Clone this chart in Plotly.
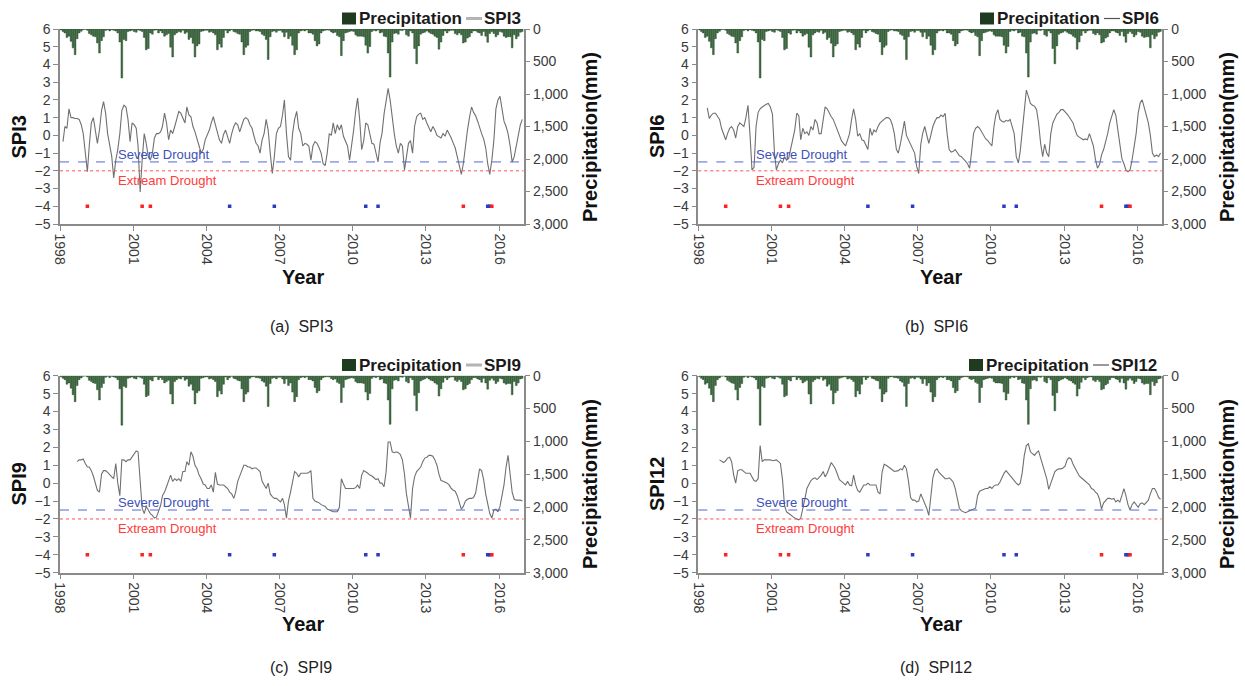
import plotly.graph_objects as go

# ---------------- data ----------------
YEARS = list(range(1998, 2017))
MONTHS = [f"{y}-{m:02d}-15" for y in YEARS for m in range(1, 13)]
TICK_YEARS = [1998, 2001, 2004, 2007, 2010, 2013, 2016]

# monthly precipitation (mm), Jan..Dec per row
PRECIP = [
    15, 40, 60, 130, 110, 190, 290, 395, 150, 60, 35, 10,     # 1998
    5, 20, 70, 90, 110, 120, 215, 370, 180, 120, 25, 10,      # 1999
    30, 10, 20, 30, 60, 200, 754, 160, 180, 40, 30, 20,       # 2000
    40, 50, 15, 25, 40, 130, 320, 300, 60, 80, 20, 15,        # 2001
    60, 30, 60, 110, 90, 70, 280, 430, 90, 60, 40, 50,        # 2002
    20, 70, 50, 160, 130, 220, 430, 260, 230, 40, 30, 20,     # 2003
    20, 50, 40, 60, 90, 320, 230, 280, 130, 20, 60, 30,       # 2004
    10, 40, 50, 70, 80, 200, 395, 280, 250, 40, 20, 15,       # 2005
    30, 30, 40, 80, 100, 160, 470, 120, 40, 30, 50, 25,       # 2006
    25, 50, 120, 50, 150, 110, 250, 395, 320, 60, 30, 20,     # 2007
    30, 15, 60, 60, 80, 180, 260, 230, 60, 30, 20, 15,        # 2008
    20, 45, 60, 50, 100, 120, 410, 180, 60, 50, 40, 30,       # 2009
    40, 90, 110, 110, 110, 120, 250, 370, 270, 40, 20, 30,    # 2010
    15, 60, 50, 110, 120, 370, 740, 200, 70, 60, 80, 20,      # 2011
    25, 10, 90, 110, 30, 60, 300, 535, 260, 80, 60, 50,       # 2012
    30, 50, 70, 80, 110, 130, 310, 200, 100, 30, 60, 30,      # 2013
    20, 20, 70, 90, 60, 90, 215, 200, 140, 120, 60, 30,       # 2014
    30, 50, 60, 100, 40, 110, 205, 70, 40, 70, 120, 90,       # 2015
    40, 50, 110, 130, 120, 120, 290, 90, 150, 110, 50, 40,    # 2016
]

SPI3 = [
    None, -0.35, 0.5, 0.4, 1.5, 1.0, 1.0, 0.95, 0.95, 0.9, 0.6, 0.1,
    -0.9, -2.05, -0.6, 0.7, 1.0, 0.1, -0.45, 0.3, 1.4, 1.9, 1.25, 0.1,
    -0.5, -1.2, -2.4, -1.4, -0.8, 0.1, 1.4, 1.7, 1.6, 0.9, -0.35, 0.7,
    0.6, 0.4, -0.6, -3.2, -1.4, 0.1, -0.45, -1.2, -1.4, -1.0, -0.15, 0.1,
    0.1, 0.2, 0.5, 1.25, 0.7, -0.25, 0.3, 0.1, 0.5, 0.9, 1.35, 1.25,
    1.0, 0.7, 1.6, 1.15, 1.05, 0.5, 0.2, -0.15, -0.6, -1.0, -0.8, -0.25,
    0.0, 0.3, 0.7, 1.05, 0.6, 0.1, -0.25, -0.45, 0.05, 0.3, -0.1, -0.45,
    0.1, 0.5, 0.7, 0.6, 0.2, 0.5, 0.9, 1.0, 0.9, 0.6, 0.4, -0.05,
    -0.45, -0.6, -1.0, -0.25, 0.1, 0.9, 0.3, -1.0, -2.15, -1.2, 0.1, 0.4,
    0.5, 1.15, 2.0, 0.1, -1.2, -1.4, 0.1, 0.9, 1.35, 0.4, 0.1, -0.6,
    -0.45, -0.5, -0.6, -1.4, -0.6, -0.35, -0.45, -0.7, -1.0, -1.6, -1.7, -1.0,
    0.1, 0.0, 0.7, 0.1, 0.6, 0.3, 0.6, -0.05, -0.3, -0.6, -1.4, -0.6,
    0.3, 1.4, 2.1, 0.9, -0.8, -0.3, 0.7, 0.6, -0.05, -0.45, -0.5, -1.0,
    -1.5, -0.4, 0.1, 1.2, 2.0, 2.65, 2.0, 1.0, 0.1, -0.6, -1.0, -0.45,
    -0.6, -1.95, -1.2, -0.45, -0.3, -1.0, 0.5, 1.05, 1.2, 1.25, 0.9, 1.0,
    0.7, 0.4, 0.2, 0.5, 0.3, 0.0, -0.1, -0.15, 0.1, -0.05, 0.3, 0.1,
    -0.15, -0.45, -0.7, -1.2, -1.75, -2.2, -1.6, -0.6, 0.3, 1.0, 1.6, 1.3,
    1.1, 0.8, 0.4, 0.1, -0.2, -0.7, -1.6, -2.2, -1.4, -0.3, 1.5, 2.0,
    2.2, 1.5, 0.8, 0.5, 0.1, -0.6, -1.5, -1.2, -0.6, 0.0, 0.6, 0.9,
]

SPI6 = [
    None, None, None, None, 1.55, 0.95, 1.15, 1.25, 1.25, 1.1, 0.9, 0.4,
    0.1, -0.25, 0.1, 0.4, 0.5, 0.3, -0.15, 0.5, 0.7, 0.6, 0.5, 1.0,
    1.7, 0.0, -1.95, -1.8, 0.5, 1.3, 1.5, 1.6, 1.7, 1.75, 1.8, 1.6,
    1.2, -1.0, -1.95, -1.6, -1.4, -1.55, -1.2, -1.4, -1.3, -0.8, -0.25, 0.3,
    1.25, 1.1, -0.25, 0.4, 0.1, 0.2, 0.0, 0.5, 0.3, 0.9, 0.7, 0.1,
    0.1, 0.9, 1.6, 1.5, 1.25, 1.05, 0.9, 0.6, 0.3, -0.05, -0.3, -0.45,
    -0.6, -0.25, 0.1, 0.9, 1.5, 0.9, -0.05, 0.1, -0.25, -0.3, -0.55, -0.8,
    0.4, 0.0, 0.3, 0.2, 0.5, 0.7, 0.8, 0.9, 1.0, 1.0, 0.9, 0.6,
    0.1, -0.8, -1.0, -0.5, 0.1, 0.8, 0.0, -0.25, -0.6, -0.8, -1.0, -1.75,
    -2.15, -0.5, 0.1, 0.5, 0.0, -0.45, 0.0, 0.5, 0.8, 1.0, 1.0, 1.15,
    1.05, 1.25, 0.1, -0.8, -0.95, -0.9, -0.8, -1.0, -1.15, -1.2, -1.3, -1.45,
    -1.6, -1.85, -1.0, 0.1, 0.4, 0.5, 0.4, 0.2, -0.05, -0.2, -0.3, -0.45,
    -0.6, 0.5, 1.15, 1.45, 0.9, 0.8, 0.75, 0.85, 0.8, 0.9, 0.5, 0.1,
    -1.2, -1.55, -0.9, 0.3, 1.5, 2.55, 2.2, 1.8, 1.7, 1.65, 1.45, 0.7,
    -0.45, -1.2, -0.5, -1.0, -1.2, 0.1, 0.7, 0.95, 1.2, 1.3, 1.45, 1.45,
    1.35, 1.2, 1.05, 0.9, 0.7, 0.3, 0.0, -0.1, -0.2, -0.25, -0.2, -0.25,
    0.1, -0.25, -0.6, -1.35, -1.85, -1.65, -1.1, -0.8, -0.4, 0.1, 0.7, 1.15,
    1.45, 1.1, 0.3, -0.6, -1.3, -1.6, -1.95, -2.05, -1.95, -1.4, -0.6, 0.1,
    1.25, 1.85, 2.0, 1.6, 1.2, 0.7, 0.0, -1.0, -1.2, -1.1, -1.2, -1.0,
]

SPI9 = [
    None, None, None, None, None, None, None, None, 1.2, 1.3, 1.3, 1.35,
    1.1, 0.9, 0.9, 0.7, 0.4, 0.0, -0.4, -0.5, 0.5, 0.7, 0.7, 0.6,
    0.5, 0.35, 0.25, 1.1, 0.0, -0.7, 1.3, 1.3, 1.2, 1.3, 1.3, 1.45,
    1.6, 1.8, 1.75, -0.2, -1.4, -1.7, -1.3, -1.5, -1.7, -1.8, -1.95, -1.9,
    -1.5, -1.25, -0.7, -0.5, -0.2, 0.1, 0.45, 0.1, 0.25, 0.15, 0.25, 0.1,
    0.65, 0.65, 1.2, 1.0, 1.75, 1.5, 1.0, 0.8, 0.45, 0.25, -0.05, -0.1,
    -0.3, -0.3, -0.1, -0.5, 0.6, -0.05, -0.1, -0.1, -0.1, -0.2, -0.3, -0.5,
    -0.6, -0.85, -0.5, 0.1, 0.45, 0.7, 1.0, 1.0, 0.9, 0.9, 0.8, 0.85,
    0.85, 0.75, 0.65, 0.1, -0.1, -0.3, 0.0, -0.6, -0.75, -0.85, -0.85, -0.95,
    -1.05, -0.85, -1.2, -1.95, -1.0, -0.5, 0.1, 0.65, 0.55, 0.35, 0.55, 0.55,
    0.55, 0.55, 0.6, 0.7, -0.85, -1.0, -1.05, -1.1, -1.2, -1.25, -1.3, -1.45,
    -1.5, -1.55, -1.6, -1.6, -1.6, -1.35, 0.25, -0.05, -0.3, -0.3, -0.3, -0.3,
    -0.3, -0.25, -0.1, -0.3, 0.45, 0.7, 0.6, 0.55, 0.45, 0.4, 0.3, 0.2,
    0.25, 0.0, 0.0, -0.2, 0.6, 2.3, 2.3, 1.75, 1.7, 1.75, 1.7, 1.6,
    1.3, 0.5, -0.6, -1.3, -1.95, -0.3, 0.35, 0.65, 0.8, 0.9, 1.2, 1.4,
    1.45, 1.55, 1.55, 1.5, 1.3, 1.0, 0.5, 0.15, 0.1, 0.05, 0.0, -0.1,
    -0.3, -0.4, -0.45, -0.7, -1.1, -1.45, -1.3, -1.0, -0.9, -0.85, -0.85, -0.8,
    -0.55, 0.2, 0.8, 0.7, 0.2, -0.6, -1.2, -1.7, -1.95, -1.5, -1.45, -1.6,
    -1.3, -0.7, -0.1, 0.9, 1.55, 0.5, -0.5, -0.9, -0.95, -0.95, -0.95, -1.0,
]

SPI12 = [
    None, None, None, None, None, None, None, None, None, None, 1.3, 1.2,
    1.15, 1.25, 1.4, 1.45, 1.2, 0.45, 0.0, 0.7, 0.75, 0.75, 0.65, 0.55,
    0.55, 0.55, 0.35, 0.15, 0.1, 0.25, 2.1, 1.2, 1.3, 1.3, 1.3, 1.3,
    1.25, 1.3, 1.3, 1.2, 1.1, 0.2, -1.25, -1.6, -1.7, -1.8, -1.9, -1.95,
    -2.0, -2.05, -1.95, -1.5, -0.9, -0.3, -0.05, 0.15, 0.25, 0.3, 0.2, 0.3,
    0.45, 0.65, 0.35, 0.55, 0.85, 1.15, 1.0, 0.8, 0.5, 0.2, 0.1, 0.0,
    -0.1, 0.1, -0.1, -0.15, 0.45, -0.1, -0.4, -0.5, -0.25, -0.1, -0.1, 0.0,
    -0.1, -0.1, -0.1, -0.1, -0.5, -0.6, 0.6, 1.05, 1.0, 0.9, 0.85, 0.75,
    0.65, 0.7, 0.7, 0.8, 0.75, 1.0, 0.8, 0.1, -0.8, -0.95, -0.95, -1.05,
    -1.0, -0.6, -0.85, -1.1, -1.4, -1.8, -0.9, 0.3, 0.7, 0.8, 0.6, 0.5,
    0.35, 0.25, 0.25, 0.3, 0.2, 0.05, -0.3, -0.85, -1.4, -1.55, -1.6, -1.65,
    -1.6, -1.55, -1.5, -1.45, -1.4, -0.7, -0.45, -0.4, -0.35, -0.3, -0.3, -0.2,
    -0.3, -0.15, -0.1, -0.1, 0.05, 0.35, 0.55, 0.7, 0.55, 0.45, 0.3, 0.1,
    0.0, -0.1, 0.0, 0.6, 1.55, 2.1, 2.2, 1.75, 1.65, 1.55, 1.7, 1.8,
    1.4, 1.0, 0.6, 0.25, -0.35, 0.0, 0.35, 0.65, 0.75, 0.8, 0.8, 0.85,
    0.95, 1.3, 1.42, 1.35, 1.05, 0.8, 0.6, 0.4, 0.3, 0.2, 0.1, 0.05,
    -0.1, -0.3, -0.35, -0.5, -0.6, -0.9, -1.45, -1.1, -0.95, -0.85, -0.85, -0.9,
    -0.85, -1.05, -0.95, -1.05, -0.7, -0.3, -0.7, -1.2, -1.5, -1.2, -1.05, -1.2,
    -1.35, -1.15, -1.1, -1.2, -1.05, -0.95, -0.6, -0.3, -0.3, -0.5, -0.8, -0.9,
]

SEVERE_EVENTS = ["2004-12-15", "2006-10-15", "2010-07-15", "2011-01-15", "2015-07-15", "2015-08-15"]
EXTREME_EVENTS = ["1999-02-15", "2001-05-15", "2001-09-15", "2014-07-15", "2015-09-15"]
EVENT_LEVEL = -4
SEVERE_LEVEL = -1.5
EXTREME_LEVEL = -2.0

PANELS = [("SPI3", SPI3, "(a)"), ("SPI6", SPI6, "(b)"), ("SPI9", SPI9, "(c)"), ("SPI12", SPI12, "(d)")]

# ---------------- styling / layout ----------------
W, H = 1245, 686
FONT = "Arial, 'Liberation Sans', sans-serif"
AX = "#8a8a8a"
TICKC = "#3a3a3a"
BAR_FILL = "#3e6e42"
BAR_LINE = "#1f3d22"
LEG_SQ = "#1e3b20"
LINE_C = "#707070"
LEG_LINE = ["#b4b4b4", "#555555", "#b4b4b4", "#555555"]
LEG_LINE_W = [3, 1.2, 3, 1.2]
BLUE = "#5566cc"
RED = "#ff5050"

X_DOM = [(60 / W, 523.5 / W), (698.3 / W, 1161.7 / W)]
Y_DOM = [(1 - 224 / H, 1 - 29 / H), (1 - 572.7 / H, 1 - 375.7 / H)]
SPI_TITLE_X = [18.5, 657]
PREC_TITLE_X = [590, 1227]
YEAR_X = [303, 941]
CAP_X = [301, 936]
SIDE_TITLE_Y = [137, 484]
YEAR_Y = [277, 624]
CAP_Y = [326, 667]
LEGEND_Y = [18.5, 365]
LEGEND_X0 = [342, 980, 342, 969]   # left of legend square per panel (px)


def px(x):
    return x / W


def py(y):
    return 1 - y / H


fig = go.Figure()
layout = dict(
    width=W, height=H, margin=dict(l=0, r=0, t=0, b=0, autoexpand=False),
    paper_bgcolor="white", plot_bgcolor="white",
    font=dict(family=FONT, color=TICKC),
    bargap=0.05, showlegend=False,
)
shapes, annotations = [], []

for i, (name, spi, cap) in enumerate(PANELS):
    k = i + 1
    col, row = i % 2, i // 2
    xa = "x" if k == 1 else f"x{k}"
    yl_id, yr_id = 2 * k - 1, 2 * k
    yl = "y" if yl_id == 1 else f"y{yl_id}"
    yr = f"y{yr_id}"

    fig.add_trace(go.Bar(
        x=MONTHS, y=PRECIP, xaxis=xa, yaxis=yr, name="Precipitation",
        marker=dict(color=BAR_FILL, line=dict(color=BAR_LINE, width=0.4)),
    ))
    fig.add_trace(go.Scatter(
        x=MONTHS, y=spi, xaxis=xa, yaxis=yl, name=name, mode="lines",
        line=dict(color=LINE_C, width=1.1), connectgaps=False,
    ))
    fig.add_trace(go.Scatter(
        x=SEVERE_EVENTS, y=[EVENT_LEVEL] * len(SEVERE_EVENTS), xaxis=xa, yaxis=yl,
        mode="markers", marker=dict(symbol="square", size=3.5, color="#2a3cc0"),
    ))
    fig.add_trace(go.Scatter(
        x=EXTREME_EVENTS, y=[EVENT_LEVEL] * len(EXTREME_EVENTS), xaxis=xa, yaxis=yl,
        mode="markers", marker=dict(symbol="square", size=3.5, color="#ff2020"),
    ))

    xkey = "xaxis" if k == 1 else f"xaxis{k}"
    layout[xkey] = dict(
        domain=list(X_DOM[col]), anchor=yl, type="date",
        range=["1998-01-01", "2017-01-01"],
        tickvals=[f"{y}-01-01" for y in TICK_YEARS], ticktext=[str(y) for y in TICK_YEARS],
        tickangle=90, ticks="outside", ticklen=5, tickcolor=AX, tickwidth=1,
        showline=True, linecolor=AX, linewidth=1.5, showgrid=False, zeroline=False,
        tickfont=dict(size=14, color=TICKC, family=FONT),
    )
    ylkey = "yaxis" if yl_id == 1 else f"yaxis{yl_id}"
    layout[ylkey] = dict(
        domain=list(Y_DOM[row]), anchor=xa, range=[-5, 6], tick0=-5, dtick=1,
        ticks="outside", ticklen=5, tickcolor=AX, tickwidth=1,
        showline=True, linecolor=AX, linewidth=1.5, showgrid=False, zeroline=False,
        tickfont=dict(size=14, color=TICKC, family=FONT),
    )
    layout[f"yaxis{yr_id}"] = dict(
        domain=list(Y_DOM[row]), anchor=xa, overlaying=yl, side="right",
        range=[3000, 0], tickvals=[0, 500, 1000, 1500, 2000, 2500, 3000], tickformat=",",
        ticks="outside", ticklen=5, tickcolor=AX, tickwidth=1,
        showline=True, linecolor=AX, linewidth=1.5, showgrid=False, zeroline=False,
        tickfont=dict(size=14, color=TICKC, family=FONT),
    )

    # custom legend: square + "Precipitation", line + series name
    lx = LEGEND_X0[i]
    ly = LEGEND_Y[row]
    shapes.append(dict(type="rect", xref="paper", yref="paper", x0=px(lx), x1=px(lx + 14),
                       y0=py(ly + 6), y1=py(ly - 6), fillcolor=LEG_SQ, line=dict(width=0)))
    annotations.append(dict(text="Precipitation", xref="paper", yref="paper", x=px(lx + 15), y=py(ly),
                            xanchor="left", yanchor="middle", showarrow=False,
                            font=dict(size=17, color="#1a1a1a", family=FONT, weight="bold")))
    shapes.append(dict(type="line", xref="paper", yref="paper", x0=px(lx + 124), x1=px(lx + 140),
                       y0=py(ly), y1=py(ly), line=dict(color=LEG_LINE[i], width=LEG_LINE_W[i])))
    annotations.append(dict(text=name, xref="paper", yref="paper", x=px(lx + 140), y=py(ly),
                            xanchor="left", yanchor="middle", showarrow=False,
                            font=dict(size=17, color="#1a1a1a", family=FONT, weight="bold")))

    shapes.append(dict(type="line", xref=f"{xa} domain", yref=yl, x0=0, x1=1,
                       y0=SEVERE_LEVEL, y1=SEVERE_LEVEL, line=dict(color=BLUE, width=1, dash="dash")))
    shapes.append(dict(type="line", xref=f"{xa} domain", yref=yl, x0=0, x1=1,
                       y0=EXTREME_LEVEL, y1=EXTREME_LEVEL, line=dict(color=RED, width=1, dash="dot")))
    annotations.append(dict(text="Severe Drought", xref=f"{xa} domain", yref=yl, x=0.121, y=SEVERE_LEVEL,
                            xanchor="left", yanchor="bottom", showarrow=False, yshift=-2,
                            font=dict(size=13, color="#4050b8", family=FONT)))
    annotations.append(dict(text="Extream Drought", xref=f"{xa} domain", yref=yl, x=0.121, y=EXTREME_LEVEL,
                            xanchor="left", yanchor="top", showarrow=False, yshift=0,
                            font=dict(size=13, color="#ff3b3b", family=FONT)))
    annotations.append(dict(text=name, xref="paper", yref="paper", x=px(SPI_TITLE_X[col]), y=py(SIDE_TITLE_Y[row]),
                            textangle=-90, showarrow=False, xanchor="center", yanchor="middle",
                            font=dict(size=20, color="#111111", family=FONT, weight="bold")))
    annotations.append(dict(text="Precipitation(mm)", xref="paper", yref="paper", x=px(PREC_TITLE_X[col]),
                            y=py(SIDE_TITLE_Y[row]), textangle=-90, showarrow=False,
                            xanchor="center", yanchor="middle",
                            font=dict(size=20, color="#111111", family=FONT, weight="bold")))
    annotations.append(dict(text="Year", xref="paper", yref="paper", x=px(YEAR_X[col]), y=py(YEAR_Y[row]),
                            showarrow=False, xanchor="center", yanchor="middle",
                            font=dict(size=20, color="#111111", family=FONT, weight="bold")))
    annotations.append(dict(text=f"{cap}\u00a0 {name}", xref="paper", yref="paper", x=px(CAP_X[col]),
                            y=py(CAP_Y[row]), showarrow=False, xanchor="center", yanchor="middle",
                            font=dict(size=16, color="#222222", family=FONT)))

layout["shapes"] = shapes
layout["annotations"] = annotations
fig.update_layout(**layout)
fig.write_html("out.html")
